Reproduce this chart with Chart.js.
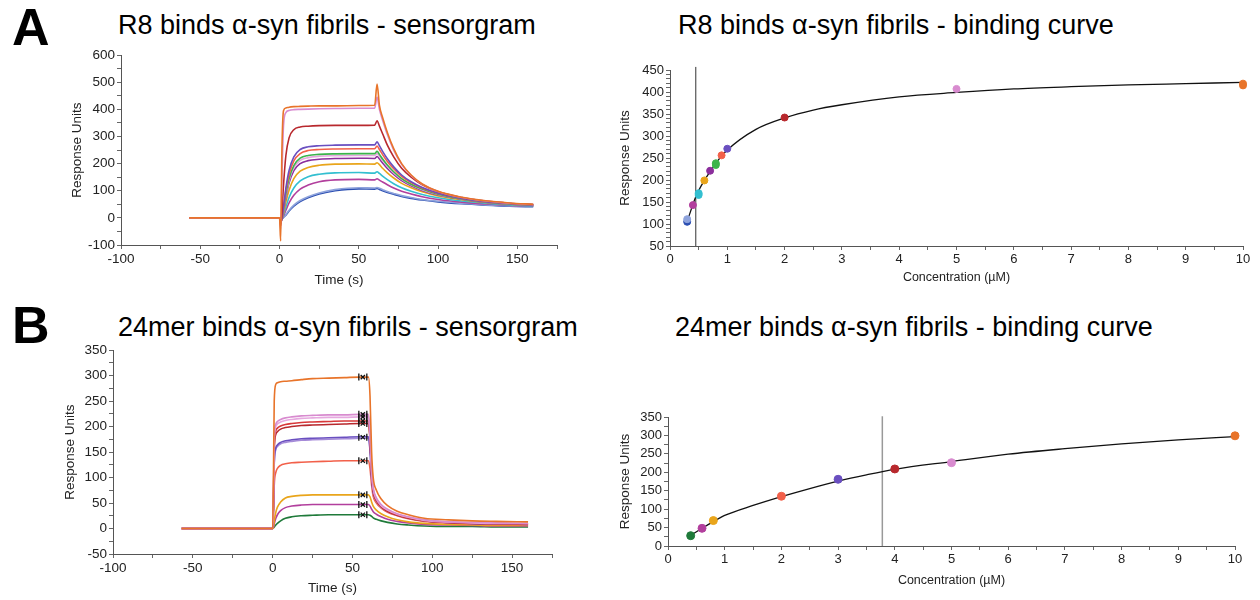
<!DOCTYPE html>
<html>
<head>
<meta charset="utf-8">
<script src="https://cdn.jsdelivr.net/npm/chart.js@4.4.0/dist/chart.umd.min.js"></script>
<style>
  body { margin: 0; width: 1260px; height: 600px; background: #fff; position: relative; overflow: hidden;
         font-family: "Liberation Sans", Arial, sans-serif; color: #000; }
  .box { position: absolute; }
  .letter { position: absolute; font-weight: bold; font-size: 52px; line-height: 52px; }
  .title { position: absolute; font-size: 27px; line-height: 27px; white-space: nowrap; }
</style>
</head>
<body>
<div class="letter" style="left:12px;top:1px">A</div>
<div class="title" style="left:118px;top:12px">R8 binds α-syn fibrils - sensorgram</div>
<div class="title" style="left:678px;top:12px">R8 binds α-syn fibrils - binding curve</div>
<div class="letter" style="left:12px;top:299px">B</div>
<div class="title" style="left:118px;top:314px">24mer binds α-syn fibrils - sensorgram</div>
<div class="title" style="left:675px;top:314px">24mer binds α-syn fibrils - binding curve</div>

<div class="box" style="left:55px;top:45px;width:515px;height:260px"><canvas id="r8Sensor"></canvas></div>
<div class="box" style="left:600px;top:45px;width:655px;height:260px"><canvas id="r8Binding"></canvas></div>
<div class="box" style="left:55px;top:340px;width:510px;height:260px"><canvas id="mer24Sensor"></canvas></div>
<div class="box" style="left:600px;top:340px;width:650px;height:260px"><canvas id="mer24Binding"></canvas></div>

<script>
// ---- R8 sensorgram (A, left) ----
const timeR8 = [-57, 0, 0.7, 1.5, 2.5, 4, 6, 9, 13, 18, 25, 35, 50, 60, 61.5, 63, 65, 68, 72, 77, 83, 90, 100, 115, 130, 145, 160];
const r8_10uM  = [0, 0, -85, 250, 395, 405, 408, 410, 411, 412, 413, 413, 414, 415, 493, 415, 370, 315, 255, 200, 158, 125, 98, 76, 63, 55, 50];
const r8_5uM   = [0, 0, -40, 150, 340, 388, 396, 399, 400, 401, 402, 403, 404, 404, 445, 400, 360, 307, 250, 197, 156, 124, 97, 75, 62, 54, 49];
const r8_2uM   = [0, 0, -30, 20, 120, 230, 295, 325, 335, 338, 340, 341, 341, 342, 358, 338, 310, 268, 225, 183, 150, 122, 96, 75, 62, 54, 49];
const r8_1uM   = [0, 0, -20, 0, 40, 110, 175, 225, 252, 262, 266, 268, 269, 269, 280, 266, 245, 218, 188, 158, 133, 112, 91, 72, 60, 53, 48];
const r8_09uM  = [0, 0, -18, -2, 35, 100, 160, 210, 237, 248, 252, 254, 255, 255, 265, 252, 233, 208, 181, 153, 130, 110, 90, 72, 60, 53, 48];
const r8_08uM  = [0, 0, -15, -3, 30, 88, 145, 193, 220, 230, 234, 236, 237, 237, 245, 234, 217, 195, 170, 145, 124, 106, 87, 70, 59, 52, 47];
const r8_08uMb = [0, 0, -15, -3, 28, 82, 138, 185, 212, 222, 227, 229, 230, 230, 237, 227, 211, 190, 166, 142, 122, 104, 86, 70, 59, 52, 47];
const r8_07uM  = [0, 0, -14, -4, 25, 75, 128, 174, 200, 211, 216, 219, 220, 219, 226, 217, 202, 182, 160, 137, 118, 101, 84, 69, 58, 51, 46];
const r8_06uM  = [0, 0, -12, -4, 18, 58, 102, 145, 172, 186, 194, 198, 199, 198, 203, 196, 183, 166, 147, 127, 111, 96, 81, 67, 57, 50, 46];
const r8_05uM  = [0, 0, -10, -4, 12, 40, 75, 110, 136, 152, 161, 166, 167, 165, 170, 164, 154, 141, 126, 111, 98, 86, 74, 62, 54, 48, 44];
const r8_04uM  = [0, 0, -8, -4, 8, 28, 55, 83, 106, 121, 133, 140, 142, 140, 144, 139, 132, 122, 110, 98, 88, 78, 68, 58, 51, 46, 43];
const r8_03uM  = [0, 0, -6, -4, 2, 10, 25, 43, 60, 74, 88, 100, 107, 106, 108, 105, 100, 94, 87, 79, 72, 66, 59, 52, 47, 43, 41];
const r8_03uMb = [0, 0, -6, -3, 3, 12, 28, 47, 64, 78, 92, 104, 111, 110, 112, 109, 104, 97, 90, 82, 75, 68, 61, 54, 48, 44, 42];

// ---- R8 binding curve (A, right) ----
const concR8 = [0.3, 0.3, 0.4, 0.5, 0.5, 0.6, 0.7, 0.8, 0.8, 0.9, 1, 2, 5, 10, 10];
const respR8 = [105, 111, 143, 166, 170, 199, 221, 234, 238, 256, 271, 342, 407, 415, 419];
const fitConcR8 = [0.3, 0.45, 0.6, 0.8, 1, 1.5, 2, 2.5, 3, 4, 5, 6, 7, 8, 9, 10];
const fitRespR8 = [106, 162, 199, 238, 268, 315, 341, 359, 371, 389, 399, 407, 412, 416, 419, 422];
const kdR8 = 0.45;

// ---- 24mer sensorgram (B, left) ----
const time24 = [-57, 0, 0.5, 1, 2, 3, 5, 8, 12, 18, 25, 35, 45, 55, 60, 61, 62, 63, 65, 68, 72, 78, 85, 95, 110, 125, 140, 160];
const m24_10uM  = [0, 0, 100, 250, 283, 286, 288, 289, 290, 292, 294, 295, 296, 297, 297, 260, 150, 100, 75, 58, 45, 34, 27, 20, 17, 15, 14, 13];
const m24_5uM   = [0, 0, 60, 180, 205, 210, 214, 217, 219, 221, 222, 223, 223, 224, 224, 190, 115, 80, 60, 47, 38, 29, 23, 17, 13, 12, 11, 10];
const m24_5uMb  = [0, 0, 55, 175, 200, 205, 209, 212, 214, 216, 217, 218, 218, 219, 219, 185, 112, 78, 58, 45, 36, 28, 22, 16, 13, 11, 10, 10];
const m24_4uMb  = [0, 0, 50, 165, 192, 197, 201, 204, 206, 208, 209, 210, 211, 211, 211, 178, 108, 75, 56, 44, 35, 27, 21, 16, 12, 11, 10, 9];
const m24_4uM   = [0, 0, 45, 155, 185, 190, 195, 198, 200, 202, 203, 204, 205, 206, 206, 174, 105, 73, 55, 43, 34, 26, 20, 15, 12, 10, 9, 9];
const m24_3uM   = [0, 0, 40, 130, 158, 164, 169, 172, 174, 176, 177, 178, 179, 180, 180, 155, 100, 72, 55, 43, 35, 27, 21, 16, 12, 10, 9, 8];
const m24_3uMb  = [0, 0, 38, 125, 155, 161, 166, 169, 171, 173, 174, 175, 176, 177, 177, 152, 98, 70, 54, 42, 34, 26, 20, 15, 12, 10, 9, 8];
const m24_2uM   = [0, 0, 25, 85, 110, 118, 124, 127, 129, 130, 131, 132, 133, 133, 133, 118, 85, 63, 50, 40, 32, 25, 19, 14, 11, 9, 8, 7];
const m24_08uM  = [0, 0, 3, 15, 32, 42, 52, 60, 63, 65, 66, 66, 66, 66, 66, 62, 52, 44, 36, 29, 23, 17, 13, 10, 8, 7, 6, 6];
const m24_06uM  = [0, 0, 2, 9, 20, 27, 35, 41, 44, 46, 47, 47, 47, 47, 47, 44, 38, 33, 28, 23, 18, 14, 11, 8, 7, 6, 5, 5];
const m24_04uM  = [0, 0, 1, 3, 7, 10, 15, 20, 23, 25, 26, 27, 27, 27, 27, 26, 24, 21, 18, 15, 12, 9, 7, 5, 4, 4, 3, 3];
// report points (steady-state window markers)
const reportTime24 = [54, 56.5, 59];
const reportLevel24 = [297, 224, 219, 211, 206, 179, 133, 66, 47, 27];

// ---- 24mer binding curve (B, right) ----
const conc24 = [0.4, 0.6, 0.8, 2, 3, 4, 5, 10];
const resp24 = [28, 48, 69, 135, 181, 209, 226, 299];
const fitConc24 = [0.4, 0.6, 0.8, 1, 1.5, 2, 2.5, 3, 3.5, 4, 5, 6, 7, 8, 9, 10];
const fitResp24 = [29, 48, 66, 83, 110, 134, 156, 176, 193, 208, 229, 249, 264, 277, 288, 297];
const kd24 = 3.78;

// colours
const C = {
  orange: "#e8742a", orchid: "#d88bcf", plum: "#e6a8df", red: "#d8383a", darkred: "#b8282d",
  slate: "#6a4fc0", lavender: "#a58ad8", tomato: "#f2604a", green: "#3bb44b", purple: "#8b2e9c",
  gold: "#e9a51b", cyan: "#33bfd0", magenta: "#b23f9d", blue: "#2c4fb2", lightblue: "#8ea3dc",
  darkgreen: "#1f7a3a"
};
const colR8 = [C.blue, C.lightblue, C.magenta, C.cyan, C.cyan, C.gold, C.purple, C.green, C.green,
               C.tomato, C.slate, C.darkred, C.orchid, C.orange, C.orange];
const col24 = [C.darkgreen, C.magenta, C.gold, C.tomato, C.slate, C.darkred, C.orchid, C.orange];

const FONT = "'Liberation Sans', Arial, sans-serif";
Chart.defaults.font.family = FONT;
Chart.defaults.color = "#222";

function xy(xs, ys) {
  return xs.map((x, i) => ({ x: x, y: ys[i] }));
}

function curve(times, values, color) {
  return {
    data: xy(times, values), borderColor: color, borderWidth: 1.6, pointRadius: 0,
    cubicInterpolationMode: "monotone", fill: false
  };
}

function fixedAxis(size) {
  return function (scale) {
    if (scale.isHorizontal()) scale.height = size;
    else scale.width = size;
  };
}

function axis(opts) {
  return {
    type: "linear", min: opts.min, max: opts.max,
    grid: { drawOnChartArea: false, drawTicks: true, tickLength: 4, color: "#666" },
    border: { color: "#555", width: 1 },
    ticks: {
      stepSize: opts.step, autoSkip: false, maxRotation: 0, padding: 2,
      font: { size: opts.fontSize || 13.5 },
      callback: function (v) {
        return Math.abs(v / opts.label - Math.round(v / opts.label)) < 1e-6 ? String(Math.round(v * 10) / 10) : "";
      }
    },
    title: { display: true, text: opts.title, font: { size: opts.titleSize || 13.5 }, color: "#222", padding: opts.titlePad },
    afterFit: fixedAxis(opts.size)
  };
}

function baseOptions(padding, xAxis, yAxis) {
  return {
    responsive: true, maintainAspectRatio: false, animation: false,
    layout: { padding: padding },
    plugins: { legend: { display: false }, tooltip: { enabled: false } },
    scales: { x: xAxis, y: yAxis }
  };
}

// A left
new Chart(document.getElementById("r8Sensor"), {
  type: "line",
  data: {
    datasets: [
      curve(timeR8, r8_10uM, C.orange), curve(timeR8, r8_5uM, C.orchid), curve(timeR8, r8_2uM, C.darkred),
      curve(timeR8, r8_1uM, C.slate), curve(timeR8, r8_09uM, C.tomato), curve(timeR8, r8_08uM, C.green),
      curve(timeR8, r8_08uMb, C.plum), curve(timeR8, r8_07uM, C.purple), curve(timeR8, r8_06uM, C.gold),
      curve(timeR8, r8_05uM, C.cyan), curve(timeR8, r8_04uM, C.magenta), curve(timeR8, r8_03uMb, C.lightblue),
      curve(timeR8, r8_03uM, C.blue)
    ]
  },
  options: baseOptions({ top: 10, right: 13, left: 0, bottom: 0 },
    axis({ min: -100, max: 175, step: 25, label: 50, title: "Time (s)", titlePad: { bottom: 17 }, size: 60 }),
    axis({ min: -100, max: 600, step: 50, label: 100, title: "Response Units", titlePad: { top: 14 }, size: 66 }))
});

// A right
new Chart(document.getElementById("r8Binding"), {
  type: "scatter",
  data: {
    datasets: [
      { data: xy(concR8, respR8), pointBackgroundColor: colR8, pointBorderColor: colR8, pointRadius: 3.5, showLine: false, clip: false },
      { data: xy(fitConcR8, fitRespR8), borderColor: "#111", borderWidth: 1.3, pointRadius: 0, showLine: true, cubicInterpolationMode: "monotone" },
      { data: [{ x: kdR8, y: 50 }, { x: kdR8, y: 457 }], borderColor: "#333", borderWidth: 1, pointRadius: 0, showLine: true, clip: false }
    ]
  },
  options: baseOptions({ top: 25, right: 12, left: 0, bottom: 0 },
    axis({ min: 0, max: 10, step: 0.5, label: 1, title: "Concentration (µM)", titleSize: 12.5, fontSize: 13, titlePad: { bottom: 20 }, size: 59 }),
    axis({ min: 50, max: 450, step: 10, label: 50, title: "Response Units", fontSize: 13, titlePad: { top: 17 }, size: 70 }))
});

// B left
const reportMarks = [];
reportLevel24.forEach(function (lvl) {
  reportMarks.push({ x: reportTime24[0], y: lvl }, { x: reportTime24[2], y: lvl });
});
const reportCross = reportLevel24.map(function (lvl) { return { x: reportTime24[1], y: lvl }; });

new Chart(document.getElementById("mer24Sensor"), {
  type: "line",
  data: {
    datasets: [
      { data: reportCross, showLine: false, pointStyle: "crossRot", pointRadius: 3, borderColor: "#111", borderWidth: 1.3 },
      { data: reportMarks, showLine: false, pointStyle: "line", rotation: 90, pointRadius: 3.5, borderColor: "#111", borderWidth: 1.3 },
      curve(time24, m24_10uM, C.orange), curve(time24, m24_5uM, C.orchid), curve(time24, m24_5uMb, C.plum),
      curve(time24, m24_4uMb, C.red), curve(time24, m24_4uM, C.darkred), curve(time24, m24_3uM, C.slate),
      curve(time24, m24_3uMb, C.lavender), curve(time24, m24_2uM, C.tomato), curve(time24, m24_08uM, C.gold),
      curve(time24, m24_06uM, C.magenta), curve(time24, m24_04uM, C.darkgreen)
    ]
  },
  options: baseOptions({ top: 9, right: 13, left: 0, bottom: 0 },
    axis({ min: -100, max: 175, step: 25, label: 50, title: "Time (s)", titlePad: { bottom: 4 }, size: 46 }),
    axis({ min: -50, max: 350, step: 25, label: 50, title: "Response Units", titlePad: { top: 7 }, size: 58 }))
});

// B right
new Chart(document.getElementById("mer24Binding"), {
  type: "scatter",
  data: {
    datasets: [
      { data: xy(conc24, resp24), pointBackgroundColor: col24, pointBorderColor: col24, pointRadius: 4, showLine: false, clip: false },
      { data: xy(fitConc24, fitResp24), borderColor: "#111", borderWidth: 1.3, pointRadius: 0, showLine: true, cubicInterpolationMode: "monotone" },
      { data: [{ x: kd24, y: 0 }, { x: kd24, y: 352 }], borderColor: "#999", borderWidth: 1.5, pointRadius: 0, showLine: true, clip: false }
    ]
  },
  options: baseOptions({ top: 77, right: 15, left: 0, bottom: 0 },
    axis({ min: 0, max: 10, step: 0.5, label: 1, title: "Concentration (µM)", titleSize: 12.5, fontSize: 13, titlePad: { bottom: 12 }, size: 54 }),
    axis({ min: 0, max: 350, step: 25, label: 50, title: "Response Units", fontSize: 13, titlePad: { top: 17 }, size: 68 }))
});
</script>
</body>
</html>
